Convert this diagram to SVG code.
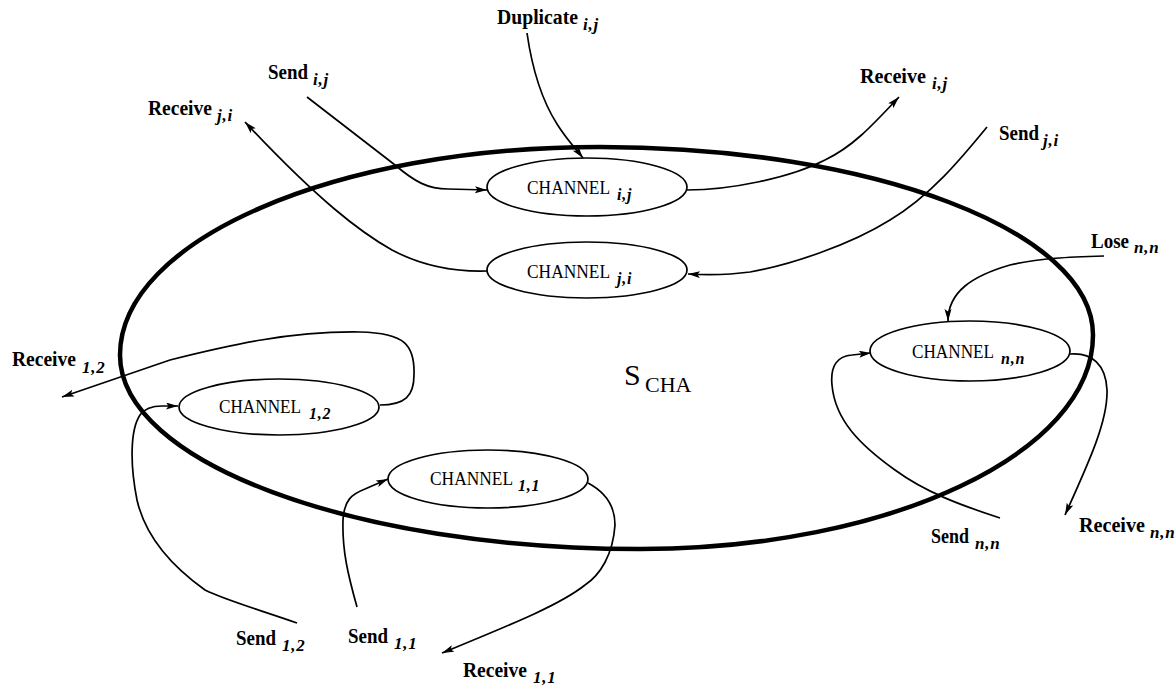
<svg xmlns="http://www.w3.org/2000/svg" width="1175" height="690" viewBox="0 0 1175 690">
  <style>
    .bg { fill: #ffffff; }
    .system { fill: none; stroke: #000; stroke-width: 4.5; }
    .chan { fill: #ffffff; stroke: #000; stroke-width: 1.7; }
    .conn { fill: none; stroke: #000; stroke-width: 1.7; }
    .ctext { font-family: "Liberation Serif", "Times New Roman", serif; font-size: 19px; fill: #000; }
    .label { font-family: "Liberation Serif", "Times New Roman", serif; font-size: 21px; font-weight: bold; fill: #000; }
    .sub { font-family: "Liberation Serif", "Times New Roman", serif; font-style: italic; font-weight: bold; fill: #000; }
    .csub { font-size: 16px; letter-spacing: 0.8px; }
    .lsub { font-size: 17px; letter-spacing: 0.8px; }
    .title { font-family: "Liberation Serif", "Times New Roman", serif; fill: #000; }
  </style>
  <defs>
    <marker id="arrow" markerUnits="userSpaceOnUse" markerWidth="13" markerHeight="8" refX="12" refY="3.5" orient="auto">
      <path d="M0,0 L12,3.5 L0,7 L2.5,3.5 Z" fill="#000"/>
    </marker>
  </defs>

  <rect class="bg" x="0" y="0" width="1175" height="690"/>

  <!-- enclosing channel system -->
  <g id="system-cha">
    <path class="system" d="M600,147 C872,147 1093,231 1093,335 C1093,453 890,549 640,549 C353,549 120,462 120,355 C120,240 335,147 600,147 Z"/>
    <text class="title" x="624" y="385" font-size="30">S</text>
    <text class="title" x="645" y="392" font-size="22">CHA</text>
  </g>

  <!-- connectors -->
  <g id="connectors">
    <!-- Duplicate i,j -->
    <path class="conn" marker-end="url(#arrow)" d="M527,33 C533,75 543,102 557,124 C567,140 576,149 583,158"/>
    <!-- Send i,j -->
    <path class="conn" marker-end="url(#arrow)" d="M307,97 L395,165 C415,182 428,189 448,189 L487,190"/>
    <!-- Receive j,i -->
    <path class="conn" marker-end="url(#arrow)" d="M487,271 C452,272 422,266 392,250 C360,232 318,200 245,122"/>
    <!-- Receive i,j -->
    <path class="conn" marker-end="url(#arrow)" d="M687,190 C730,190 790,178 825,160 C852,147 870,128 899,97"/>
    <!-- Send j,i -->
    <path class="conn" marker-end="url(#arrow)" d="M987,127 C960,160 930,196 890,220 C850,245 790,265 750,272 C728,275 708,275 688,274"/>
    <!-- Lose n,n -->
    <path class="conn" marker-end="url(#arrow)" d="M1104,256 C1070,257 1040,258 1010,265 C972,276 948,292 948,321"/>
    <!-- Send n,n -->
    <path class="conn" marker-end="url(#arrow)" d="M1000,518 C960,505 925,492 895,470 C860,445 835,420 832,385 C830,365 838,356 852,355 L871,353"/>
    <!-- Receive n,n -->
    <path class="conn" marker-end="url(#arrow)" d="M1070,354 C1092,352 1106,365 1107,390 C1108,420 1090,460 1065,515"/>
    <!-- Receive 1,2 -->
    <path class="conn" marker-end="url(#arrow)" d="M380,405 C405,405 414,396 414,375 C415,345 405,333 360,332 C290,331 230,345 170,360 L62,397"/>
    <!-- Send 1,2 -->
    <path class="conn" marker-end="url(#arrow)" d="M297,623 C260,610 225,600 205,590 C170,565 145,535 137,500 C130,465 130,430 140,415 C145,408 152,406 162,406 L178,406"/>
    <!-- Send 1,1 -->
    <path class="conn" marker-end="url(#arrow)" d="M357,607 C348,575 342,550 343,520 C344,500 352,494 365,489 L388,479"/>
    <!-- Receive 1,1 -->
    <path class="conn" marker-end="url(#arrow)" d="M588,483 C605,492 615,505 615,525 C613,555 600,575 585,585 C560,605 510,625 442,653"/>
  </g>

  <!-- channel nodes -->
  <g id="channel-ij">
    <ellipse class="chan" cx="587" cy="187" rx="100" ry="29"/>
    <text class="ctext" x="527" y="194" textLength="83" lengthAdjust="spacingAndGlyphs">CHANNEL</text>
    <text class="sub csub" x="617" y="200">i,j</text>
  </g>
  <g id="channel-ji">
    <ellipse class="chan" cx="587" cy="270" rx="100" ry="28"/>
    <text class="ctext" x="527" y="278" textLength="83" lengthAdjust="spacingAndGlyphs">CHANNEL</text>
    <text class="sub csub" x="617" y="284">j,i</text>
  </g>
  <g id="channel-nn">
    <ellipse class="chan" cx="970" cy="351" rx="100" ry="30"/>
    <text class="ctext" x="912" y="358" textLength="82" lengthAdjust="spacingAndGlyphs">CHANNEL</text>
    <text class="sub csub" x="1001" y="364">n,n</text>
  </g>
  <g id="channel-12">
    <ellipse class="chan" cx="279" cy="407" rx="100" ry="28"/>
    <text class="ctext" x="219" y="413" textLength="82" lengthAdjust="spacingAndGlyphs">CHANNEL</text>
    <text class="sub csub" x="309" y="419">1,2</text>
  </g>
  <g id="channel-11">
    <ellipse class="chan" cx="488" cy="479" rx="100" ry="29"/>
    <text class="ctext" x="430" y="485" textLength="83" lengthAdjust="spacingAndGlyphs">CHANNEL</text>
    <text class="sub csub" x="518" y="491">1,1</text>
  </g>

  <!-- action labels -->
  <g id="label-duplicate-ij">
    <text class="label" x="497" y="24" textLength="81" lengthAdjust="spacingAndGlyphs">Duplicate</text>
    <text class="sub lsub" x="583" y="30">i,j</text>
  </g>
  <g id="label-send-ij">
    <text class="label" x="268" y="79" textLength="40" lengthAdjust="spacingAndGlyphs">Send</text>
    <text class="sub lsub" x="313" y="85">i,j</text>
  </g>
  <g id="label-receive-ji">
    <text class="label" x="148" y="115" textLength="64" lengthAdjust="spacingAndGlyphs">Receive</text>
    <text class="sub lsub" x="217" y="121">j,i</text>
  </g>
  <g id="label-receive-ij">
    <text class="label" x="860" y="83" textLength="66" lengthAdjust="spacingAndGlyphs">Receive</text>
    <text class="sub lsub" x="932" y="89">i,j</text>
  </g>
  <g id="label-send-ji">
    <text class="label" x="999" y="140" textLength="40" lengthAdjust="spacingAndGlyphs">Send</text>
    <text class="sub lsub" x="1043" y="146">j,i</text>
  </g>
  <g id="label-lose-nn">
    <text class="label" x="1091" y="248" textLength="38" lengthAdjust="spacingAndGlyphs">Lose</text>
    <text class="sub lsub" x="1134" y="253">n,n</text>
  </g>
  <g id="label-receive-12">
    <text class="label" x="12" y="366" textLength="64" lengthAdjust="spacingAndGlyphs">Receive</text>
    <text class="sub lsub" x="82" y="373">1,2</text>
  </g>
  <g id="label-send-12">
    <text class="label" x="236" y="645" textLength="40" lengthAdjust="spacingAndGlyphs">Send</text>
    <text class="sub lsub" x="282" y="651">1,2</text>
  </g>
  <g id="label-send-11">
    <text class="label" x="348" y="643" textLength="40" lengthAdjust="spacingAndGlyphs">Send</text>
    <text class="sub lsub" x="394" y="649">1,1</text>
  </g>
  <g id="label-receive-11">
    <text class="label" x="463" y="677" textLength="64" lengthAdjust="spacingAndGlyphs">Receive</text>
    <text class="sub lsub" x="533" y="683">1,1</text>
  </g>
  <g id="label-send-nn">
    <text class="label" x="931" y="543" textLength="38" lengthAdjust="spacingAndGlyphs">Send</text>
    <text class="sub lsub" x="975" y="549">n,n</text>
  </g>
  <g id="label-receive-nn">
    <text class="label" x="1079" y="532" textLength="66" lengthAdjust="spacingAndGlyphs">Receive</text>
    <text class="sub lsub" x="1150" y="538">n,n</text>
  </g>
</svg>
